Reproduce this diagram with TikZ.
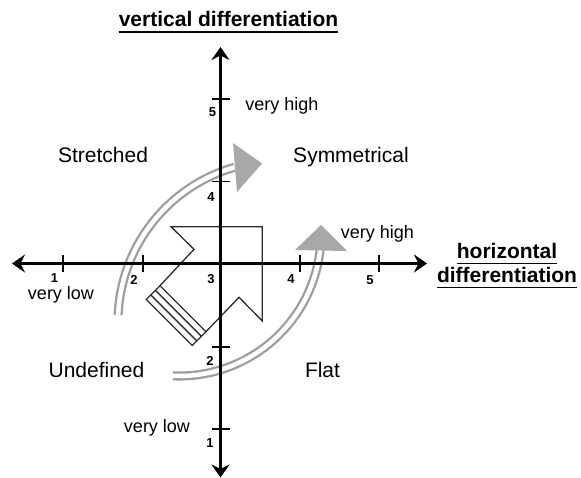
\documentclass[tikz,border=0pt]{standalone}
\usepackage{fontspec}
\setmainfont{Liberation Sans}
\usetikzlibrary{arrows.meta,calc}
\definecolor{arcgray}{RGB}{158,158,158}
\definecolor{headgray}{RGB}{168,168,168}
\definecolor{shapeline}{RGB}{45,45,45}
\begin{document}
\begin{tikzpicture}[x=1pt,y=-1pt,
  axisline/.style={line width=3.8pt},
  axtip/.tip={Stealth[length=13pt,width=18pt,inset=4.5pt]},
  tickline/.style={line width=1.6pt},
  ticklabel/.style={font=\fontsize{13}{13}\selectfont\bfseries, inner sep=0pt},
  quad/.style={font=\fontsize{21}{24}\selectfont, inner sep=0pt, anchor=base},
  levellabel/.style={font=\fontsize{18}{20}\selectfont, inner sep=0pt, anchor=base},
  titletext/.style={font=\fontsize{21}{24}\selectfont\bfseries, inner sep=0pt, anchor=base},
  uline/.style={line width=1.8pt},
  arcline/.style={draw=arcgray, line width=2.3pt, double=white, double distance=4.5pt},
  arhead/.style={fill=headgray, draw=none},
  hollow/.style={draw=shapeline, line width=1.3pt, line join=miter},
]
\useasboundingbox (0,0) rectangle (581,478);
\fill[white] (0,0) rectangle (581,478);

% curved double arrows
\draw[arcline] (279,322) ++(182.5:161) arc[start angle=182.5, end angle=254, radius=161];
\fill[arhead] (233,143) -- (262,163.5) -- (237,192) -- cycle;
\draw[arcline] (179,234) ++(92.4:142) arc[start angle=92.4, end angle=6.4, radius=142];
\fill[arhead] (295,250) -- (321,225) -- (347,251) -- cycle;

% hollow arrow
\coordinate (hF) at (194,249.3);
\coordinate (hA) at (171,226.7);
\coordinate (hB) at (262.3,226.7);
\coordinate (hC) at (262.3,321);
\coordinate (hD) at (239,297.3);
\coordinate (hE) at (206,331.7);
\coordinate (hG) at (160,285.7);
\draw[hollow] (hG) -- (hF) -- (hA) -- (hB) -- (hC) -- (hD) -- (hE);
\draw[hollow] (hG) -- (hE) -- ($(hE)+(-13.8,13.8)$) -- ($(hG)+(-13.8,13.8)$) -- cycle;
\draw[hollow] ($(hG)+(-4.6,4.6)$) -- ($(hE)+(-4.6,4.6)$);
\draw[hollow] ($(hG)+(-9.2,9.2)$) -- ($(hE)+(-9.2,9.2)$);

% axes
\coordinate (O) at (220.5,263.5);
\coordinate (xl) at (12,263.5);
\coordinate (xr) at (427,263.5);
\coordinate (yt) at (220.5,47);
\coordinate (yb) at (220.5,477.5);
\draw[axisline, {axtip}-{axtip}] (xl) -- (xr);
\draw[axisline, {axtip}-{axtip}] (yb) -- (yt);

% ticks
\foreach \x in {63,143,300,379} \draw[tickline] (\x,255) -- (\x,272);
\foreach \y in {99.3,181.7,346.7,429} \draw[tickline] (212,\y) -- (230,\y);

\node[ticklabel] (h1) at (54.5,278.5) {1};
\node[ticklabel] (h2) at (134,279.5) {2};
\node[ticklabel] (h3) at (211,279.5) {3};
\node[ticklabel] (h4) at (291,279.5) {4};
\node[ticklabel] (h5) at (370,280.5) {5};
\node[ticklabel] (v5) at (212.5,112.5) {5};
\node[ticklabel] (v4) at (211,197) {4};
\node[ticklabel] (v2) at (210,360.5) {2};
\node[ticklabel] (v1) at (210,443) {1};

% level labels
\node[levellabel] (vhigh) at (282,111) {very high};
\node[levellabel] (hhigh) at (377.5,239) {very high};
\node[levellabel] (hlow) at (61,300) {very low};
\node[levellabel] (vlow) at (157,432) {very low};

% quadrant labels
\node[quad] (qs) at (103,163) {Stretched};
\node[quad] (qy) at (351,163) {Symmetrical};
\node[quad] (qu) at (96.5,377) {Undefined};
\node[quad] (qf) at (322.5,377) {Flat};

% titles
\node[titletext] (vtitle) at (228.5,27) {vertical differentiation};
\draw[uline] ([yshift=-5pt]vtitle.base west) -- ([yshift=-5pt]vtitle.base east);
\node[titletext] (htitle1) at (507,259) {horizontal};
\draw[uline] ([yshift=-4.5pt]htitle1.base west) -- ([yshift=-4.5pt]htitle1.base east);
\node[titletext] (htitle2) at (507,283) {differentiation};
\draw[uline] ([yshift=-4.5pt]htitle2.base west) -- ([yshift=-4.5pt]htitle2.base east);
\end{tikzpicture}
\end{document}
